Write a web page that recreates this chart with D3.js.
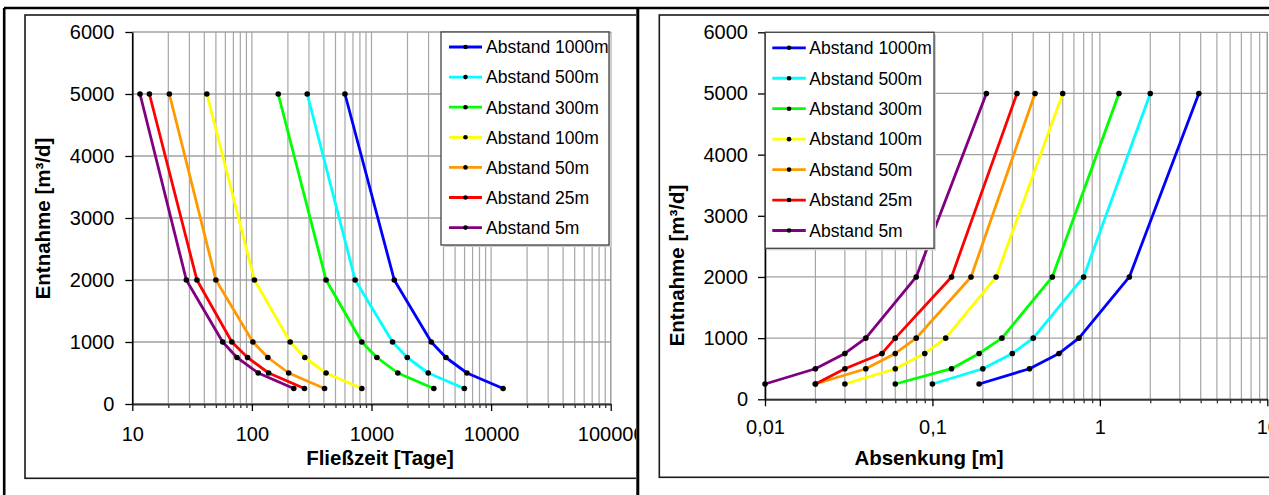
<!DOCTYPE html>
<html>
<head>
<meta charset="utf-8">
<script src="https://cdn.jsdelivr.net/npm/d3@7"></script>
<style>
  html, body { margin: 0; padding: 0; background: #fff; }
  svg { display: block; }
  text { font-family: "Liberation Sans", Arial, sans-serif; }
</style>
</head>
<body>
<script>
// ---------------- DATA ----------------
const entnahme = [5000, 2000, 1000, 750, 500, 250];

const seriesLabels = ["Abstand 1000m", "Abstand 500m", "Abstand 300m", "Abstand 100m", "Abstand 50m", "Abstand 25m", "Abstand 5m"];
const seriesColors = ["#0000FF", "#00FFFF", "#00FF00", "#FFFF00", "#FF9900", "#FF0000", "#800080"];

// Fließzeit [Tage] for each Entnahme value
const fliesszeit1000 = [600, 1550, 3160, 4190, 6280, 12600];
const fliesszeit500  = [290, 730, 1500, 1990, 2980, 5970];
const fliesszeit300  = [166, 417, 830, 1110, 1660, 3320];
const fliesszeit100  = [42, 105, 209, 277, 417, 830];
const fliesszeit50   = [20.4, 50, 102, 136, 203, 405];
const fliesszeit25   = [13.9, 34.7, 68, 92, 138, 275];
const fliesszeit5    = [11.6, 28.3, 57, 75, 113, 224];

// Absenkung [m] for each Entnahme value
const absenkung1000 = [3.9, 1.5, 0.75, 0.57, 0.38, 0.19];
const absenkung500  = [2.0, 0.8, 0.4, 0.3, 0.2, 0.1];
const absenkung300  = [1.3, 0.52, 0.26, 0.19, 0.13, 0.06];
const absenkung100  = [0.6, 0.24, 0.12, 0.09, 0.06, 0.03];
const absenkung50   = [0.41, 0.17, 0.08, 0.06, 0.04, 0.02];
const absenkung25   = [0.32, 0.13, 0.06, 0.05, 0.03, 0.02];
const absenkung5    = [0.21, 0.08, 0.04, 0.03, 0.02, 0.01];

const yTickValues = [0, 1000, 2000, 3000, 4000, 5000, 6000];
const xTicksLeft = [10, 100, 1000, 10000, 100000];
const xTickLabelsLeft = ["10", "100", "1000", "10000", "100000"];
const xTicksRight = [0.01, 0.1, 1, 10];
const xTickLabelsRight = ["0,01", "0,1", "1", "10"];

const fliesszeitSeries = [fliesszeit1000, fliesszeit500, fliesszeit300, fliesszeit100, fliesszeit50, fliesszeit25, fliesszeit5];
const absenkungSeries = [absenkung1000, absenkung500, absenkung300, absenkung100, absenkung50, absenkung25, absenkung5];

// ---------------- DRAW ----------------
const W = 1269, H = 495;
const svg = d3.select("body").append("svg").attr("width", W).attr("height", H);
svg.append("rect").attr("width", W).attr("height", H).attr("fill", "#fff");

const defs = svg.append("defs");
defs.append("clipPath").attr("id", "clipLeft").append("rect").attr("x", 0).attr("y", 0).attr("width", 636).attr("height", H);
defs.append("clipPath").attr("id", "clipRight").append("rect").attr("x", 640).attr("y", 0).attr("width", W - 640).attr("height", H);

const FONT = '"Liberation Sans", Arial, sans-serif';

function drawChart(opts) {
  const g = svg.append("g").attr("clip-path", `url(#${opts.clip})`);
  const x = opts.x, y = opts.y;
  const x0 = x.range()[0], x1 = x.range()[1];
  const y0 = y.range()[0], y1 = y.range()[1];

  // inner chart frame
  g.append("rect").attr("x", opts.frame[0]).attr("y", opts.frame[1])
    .attr("width", opts.frame[2] - opts.frame[0]).attr("height", opts.frame[3] - opts.frame[1])
    .attr("fill", "#fff").attr("stroke", "#1a1a1a").attr("stroke-width", 1.6);

  // gridlines
  const allX = x.ticks();
  g.append("g").selectAll("line").data(allX).join("line")
    .attr("x1", d => x(d)).attr("x2", d => x(d)).attr("y1", y0).attr("y2", y1)
    .attr("stroke", "#a6a6a6").attr("stroke-width", 1.2);
  g.append("g").selectAll("line").data(yTickValues).join("line")
    .attr("x1", x0).attr("x2", x1).attr("y1", d => y(d)).attr("y2", d => y(d))
    .attr("stroke", "#a0a0a0").attr("stroke-width", 1.3);
  // plot area right border
  g.append("line").attr("x1", x1).attr("x2", x1).attr("y1", y0).attr("y2", y1)
    .attr("stroke", "#a0a0a0").attr("stroke-width", 1.3);

  // y axis
  const yAxis = d3.axisLeft(y).tickValues(yTickValues).tickSize(7).tickSizeOuter(0)
    .tickPadding(opts.yPad).tickFormat(d3.format("d"));
  const ya = g.append("g").attr("transform", `translate(${x0},0)`).call(yAxis);
  ya.select(".domain").attr("stroke", "#000").attr("stroke-width", 1.6);
  ya.selectAll(".tick line").attr("stroke", "#000").attr("stroke-width", 1.3);
  ya.selectAll("text").attr("font-size", 20).attr("font-family", FONT).attr("fill", "#000");

  // x axis minor ticks
  const minor = allX.filter(d => !opts.xTicks.some(t => Math.abs(t - d) / t < 1e-9));
  const xMinor = d3.axisBottom(x).tickValues(minor).tickSize(4).tickSizeOuter(0).tickFormat("");
  const xm = g.append("g").attr("transform", `translate(0,${y0})`).call(xMinor);
  xm.select(".domain").remove();
  xm.selectAll(".tick line").attr("stroke", "#333").attr("stroke-width", 1.3);

  // x axis major
  const xAxis = d3.axisBottom(x).tickValues(opts.xTicks).tickSize(7).tickSizeOuter(0)
    .tickPadding(opts.xPad).tickFormat((d, i) => opts.xLabels[i]);
  const xa = g.append("g").attr("transform", `translate(0,${y0})`).call(xAxis);
  xa.select(".domain").attr("stroke", "#333").attr("stroke-width", 2);
  xa.selectAll(".tick line").attr("stroke", "#000").attr("stroke-width", 1.3);
  xa.selectAll("text").attr("font-size", 20).attr("font-family", FONT).attr("fill", "#000");

  // series (draw 5m last so it lies on top)
  const line = d3.line().x(d => x(d[0])).y(d => y(d[1]));
  const seriesData = opts.series.map((vals, i) => ({
    color: seriesColors[i], label: seriesLabels[i],
    pts: vals.map((v, j) => [v, entnahme[j]])
  }));
  const sg = g.append("g");
  seriesData.forEach(s => {
    sg.append("path").datum(s.pts).attr("d", line).attr("fill", "none")
      .attr("stroke", s.color).attr("stroke-width", 2.8).attr("stroke-linejoin", "round");
  });
  seriesData.forEach(s => {
    sg.append("g").selectAll("circle").data(s.pts).join("circle")
      .attr("cx", d => x(d[0])).attr("cy", d => y(d[1])).attr("r", 2.8).attr("fill", "#000");
  });

  // legend
  const L = opts.legend;
  g.append("rect").attr("x", L.x + 2).attr("y", L.y + 2).attr("width", L.w).attr("height", L.h)
    .attr("fill", "#cfcfcf");
  g.append("rect").attr("x", L.x).attr("y", L.y).attr("width", L.w).attr("height", L.h)
    .attr("fill", "#fff").attr("stroke", "#444").attr("stroke-width", 1.3);
  const items = g.append("g").selectAll("g").data(seriesData).join("g")
    .attr("transform", (d, i) => `translate(${L.x},${L.y0 + i * L.dy})`);
  items.append("line").attr("x1", L.lx1).attr("x2", L.lx2).attr("y1", 0).attr("y2", 0)
    .attr("stroke", d => d.color).attr("stroke-width", 2.8);
  items.append("circle").attr("cx", (L.lx1 + L.lx2) / 2).attr("cy", 0).attr("r", 2.3).attr("fill", "#000");
  items.append("text").attr("x", L.tx).attr("y", 0).attr("dy", "0.36em")
    .attr("font-size", 17.5).attr("font-family", FONT).attr("fill", "#000").text(d => d.label);

  // axis titles
  g.append("text").attr("x", opts.xTitle[0]).attr("y", opts.xTitle[1]).attr("text-anchor", "middle")
    .attr("font-size", 20.5).attr("font-weight", "bold").attr("font-family", FONT).text(opts.xTitleText);
  g.append("text").attr("transform", `translate(${opts.yTitle[0]},${opts.yTitle[1]}) rotate(-90)`)
    .attr("text-anchor", "middle").attr("dy", "0.36em")
    .attr("font-size", 20.5).attr("font-weight", "bold").attr("font-family", FONT).text("Entnahme [m³/d]");
}

// Left chart
drawChart({
  clip: "clipLeft",
  x: d3.scaleLog().domain([10, 100000]).range([132.3, 610.7]),
  y: d3.scaleLinear().domain([0, 6000]).range([404, 32]),
  frame: [25, 15, 660, 478.3],
  yPad: 11, xPad: 16,
  xTicks: xTicksLeft, xLabels: xTickLabelsLeft,
  series: fliesszeitSeries,
  legend: { x: 441, y: 32, w: 168, h: 213, y0: 47, dy: 30.1, lx1: 8, lx2: 41, tx: 45 },
  xTitle: [380, 465], xTitleText: "Fließzeit [Tage]",
  yTitle: [43, 218.5]
});

// Right chart
drawChart({
  clip: "clipRight",
  x: d3.scaleLog().domain([0.01, 10]).range([765, 1267.3]),
  y: d3.scaleLinear().domain([0, 6000]).range([399.3, 32.3]),
  frame: [659.3, 15, 1300, 477.3],
  yPad: 10, xPad: 14,
  xTicks: xTicksRight, xLabels: xTickLabelsRight,
  series: absenkungSeries,
  legend: { x: 765.3, y: 32.3, w: 168.7, h: 216, y0: 47.8, dy: 30.45, lx1: 7, lx2: 40.5, tx: 44 },
  xTitle: [929, 465], xTitleText: "Absenkung [m]",
  yTitle: [677, 265.5]
});

// outer frame lines
svg.append("line").attr("x1", 4).attr("x2", W).attr("y1", 8).attr("y2", 8).attr("stroke", "#000").attr("stroke-width", 2.6);
svg.append("line").attr("x1", 4.2).attr("x2", 4.2).attr("y1", 8).attr("y2", H).attr("stroke", "#000").attr("stroke-width", 2.6);
svg.append("line").attr("x1", 637.8).attr("x2", 637.8).attr("y1", 8).attr("y2", H).attr("stroke", "#000").attr("stroke-width", 3);
</script>
</body>
</html>
